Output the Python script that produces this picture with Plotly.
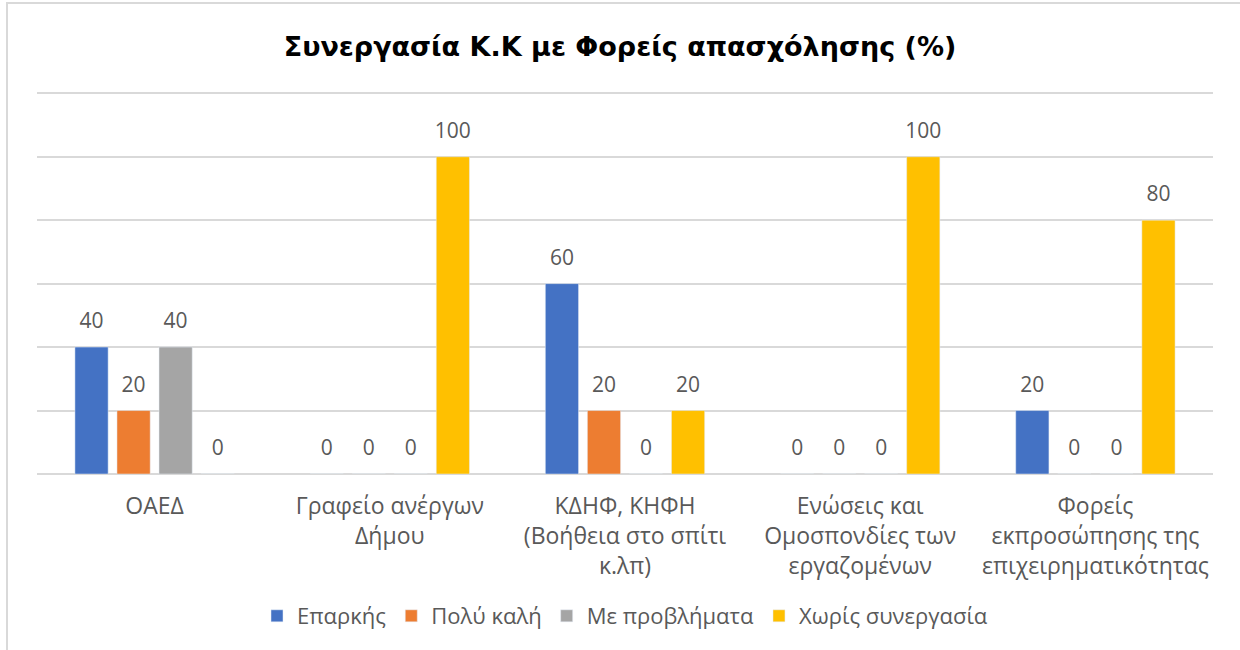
import plotly.graph_objects as go

categories = [
    "ΟΑΕΔ",
    "Γραφείο ανέργων<br>Δήμου",
    "ΚΔΗΦ, ΚΗΦΗ<br>(Βοήθεια στο σπίτι<br>κ.λπ)",
    "Ενώσεις και<br>Ομοσπονδίες των<br>εργαζομένων",
    "Φορείς<br>εκπροσώπησης της<br>επιχειρηματικότητας",
]
series_names = ["Επαρκής", "Πολύ καλή", "Με προβλήματα", "Χωρίς συνεργασία"]
eparkis = [40, 0, 60, 0, 20]
poly_kali = [20, 0, 20, 0, 0]
me_provlimata = [40, 0, 0, 0, 0]
xoris_synergasia = [0, 100, 20, 100, 80]
colors = ["#4472C4", "#ED7D31", "#A5A5A5", "#FFC000"]

values = [eparkis, poly_kali, me_provlimata, xoris_synergasia]

FONT = "Open Sans"
TITLE_FONT = "DejaVu Sans"
TXT = "#595959"

fig = go.Figure()
for i, (name, vals, col) in enumerate(zip(series_names, values, colors)):
    fig.add_trace(go.Bar(
        x=categories, y=vals, name=name, marker_color=col,
        offsetgroup=str(i), alignmentgroup="a",
    ))
for i, (name, vals) in enumerate(zip(series_names, values)):
    fig.add_trace(go.Scatter(
        x=categories, y=vals, mode="markers+text", text=[str(v) for v in vals],
        textposition="top center", marker=dict(size=20, opacity=0),
        textfont=dict(family=FONT, size=21, color=TXT),
        offsetgroup=str(i), alignmentgroup="a", showlegend=False,
        hoverinfo="skip", cliponaxis=False,
    ))

fig.update_layout(
    width=1240, height=650,
    margin=dict(l=37, r=27, t=92, b=176),
    paper_bgcolor="white", plot_bgcolor="white",
    barmode="group", bargap=0.285, bargroupgap=0.21,
    scattermode="group", scattergap=0.285,
    title=dict(text="<b>Συνεργασία Κ.Κ με Φορείς απασχόλησης (%)</b>",
               x=0.5, xanchor="center", y=1 - 47 / 650, yanchor="middle",
               font=dict(family=TITLE_FONT, size=27, color="black")),
    font=dict(family=FONT, size=22, color=TXT),
    legend=dict(orientation="h", x=0.5, xanchor="center", y=(474 - 616) / 382,
                yanchor="middle",
                font=dict(family=FONT, size=22, color=TXT), traceorder="normal",
                itemwidth=30),
    showlegend=True,
)
fig.update_xaxes(showline=False, ticks="", ticklabelstandoff=16,
                 tickfont=dict(family=FONT, size=23, color=TXT))
fig.update_yaxes(range=[0, 120.4], dtick=20, showticklabels=False, showgrid=True,
                 gridcolor="#D9D9D9", gridwidth=2, zeroline=True,
                 zerolinecolor="#D9D9D9", zerolinewidth=2)

fig.add_shape(type="rect", xref="paper", yref="paper",
              x0=-30 / 1176, x1=1.2, y0=-0.6, y1=(474 - 3) / 382,
              line=dict(color="#D9D9D9", width=2), fillcolor="rgba(0,0,0,0)", layer="below")

fig.write_html("out.html", config={"displayModeBar": False},
               post_script="document.body.style.margin='0';")
